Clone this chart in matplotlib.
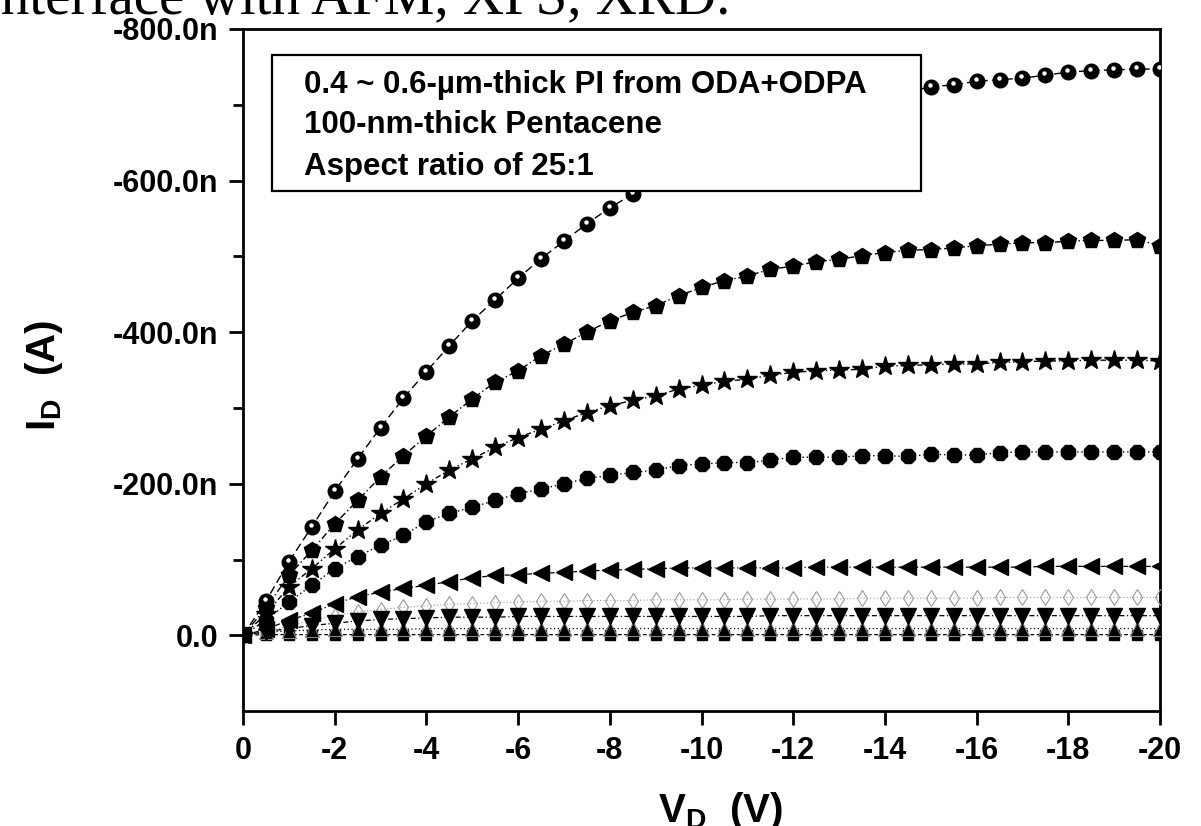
import numpy as np
import matplotlib
matplotlib.use('Agg')
import matplotlib.pyplot as plt
from matplotlib.patches import Rectangle
from matplotlib.ticker import FixedLocator, FuncFormatter
import matplotlib.transforms as mtransforms

plt.rcParams['font.family'] = ['Liberation Sans', 'DejaVu Sans']
plt.rcParams['axes.unicode_minus'] = False
plt.rcParams['mathtext.fontset'] = 'custom'
plt.rcParams['mathtext.rm'] = 'Liberation Sans:bold'
plt.rcParams['mathtext.bf'] = 'Liberation Sans:bold'

# drain voltage, 0 to -20 V in 0.5 V steps
vd = [0.0, -0.5, -1.0, -1.5, -2.0, -2.5, -3.0, -3.5, -4.0, -4.5, -5.0,
      -5.5, -6.0, -6.5, -7.0, -7.5, -8.0, -8.5, -9.0, -9.5, -10.0,
      -10.5, -11.0, -11.5, -12.0, -12.5, -13.0, -13.5, -14.0, -14.5, -15.0,
      -15.5, -16.0, -16.5, -17.0, -17.5, -18.0, -18.5, -19.0, -19.5, -20.0]

# drain current in nA, one list per gate voltage
id_circle = [0, -45, -97, -143, -190, -233, -274, -313, -348, -382, -415,
             -443, -471, -497, -520, -543, -564, -582, -599, -615, -630,
             -643, -655, -666, -676, -685, -694, -702, -709, -716, -724,
             -726, -731, -733, -735, -739, -743, -745, -746, -747, -747]
id_penta = [0, -36, -79, -112, -147, -178, -209, -237, -263, -288, -312,
            -334, -349, -369, -384, -400, -415, -426, -435, -448, -459,
            -468, -474, -483, -487, -493, -496, -501, -505, -508, -509,
            -511, -514, -516, -518, -518, -520, -521, -521, -522, -514]
id_star = [0, -28, -64, -88, -114, -139, -161, -180, -200, -218, -233,
           -248, -261, -272, -283, -294, -303, -310, -316, -325, -330,
           -335, -338, -343, -347, -349, -350, -351, -355, -356, -357,
           -358, -358, -360, -361, -362, -362, -363, -363, -363, -362]
id_gear = [0, -20, -44, -66, -88, -104, -119, -132, -150, -161, -169,
           -178, -187, -193, -200, -207, -211, -215, -218, -224, -226,
           -228, -228, -231, -235, -235, -235, -237, -237, -236, -239,
           -238, -238, -241, -242, -242, -242, -242, -242, -242, -242]
id_left = [0, -8, -20, -29, -42, -51, -57, -62, -66, -71, -76,
           -79, -80, -82, -83, -85, -86, -87, -88, -89, -89,
           -89, -89, -89, -89, -90, -90, -90, -90, -90, -90,
           -90, -90, -90, -90, -91, -91, -91, -91, -91, -91]
id_diamond = [0, -5, -12, -20, -26, -31, -34, -37, -39, -41, -42,
              -43, -44, -45, -45, -46, -46, -46, -47, -47, -47,
              -47, -48, -48, -48, -48, -48, -49, -49, -49, -49,
              -49, -49, -50, -50, -50, -50, -50, -50, -50, -50]
id_down = [0, -5, -9, -13, -16, -19, -21, -22, -23, -24, -24,
           -24, -25, -25, -25, -25, -25, -25, -25, -25, -25,
           -25, -25, -26, -26, -26, -26, -26, -26, -26, -26,
           -26, -26, -26, -26, -26, -26, -26, -26, -26, -26]
id_up = [0, -4, -6, -7, -8, -8, -8, -8, -9, -9, -9,
         -9, -9, -9, -9, -9, -9, -9, -9, -9, -9,
         -9, -9, -9, -9, -9, -9, -9, -9, -9, -9,
         -9, -9, -9, -9, -9, -9, -9, -9, -9, -9]
id_square = [0, -1, -1, -1, -1, -1, -1, -1, -1, -1, -1,
             -1, -1, -1, -1, -1, -1, -1, -1, -1, -1,
             -1, -1, -1, -1, -1, -1, -1, -1, -1, -1,
             -1, -1, -1, -1, -1, -1, -1, -1, -1, -1]

y_major = [-800, -600, -400, -200, 0]
y_minor = [-700, -500, -300, -100]
x_major = [0, -2, -4, -6, -8, -10, -12, -14, -16, -18, -20]

box_lines = ['0.4 ~ 0.6-\u00b5m-thick PI from ODA+ODPA',
             '100-nm-thick Pentacene',
             'Aspect ratio of 25:1']

fig = plt.figure(figsize=(12.01, 8.26), dpi=100)
ax = fig.add_axes([0.2023, 0.139, 0.7636, 0.826])

ax.plot(vd, id_square, color='k', ls=(0, (3, 2)), lw=0.9, marker='s', ms=7, zorder=3)
ax.plot(vd, id_up, color='k', ls=(0, (1, 2)), lw=0.9, marker='^', ms=10,
        mec='#888888', mew=0.8, zorder=3)
ax.plot(vd, id_down, color='k', ls=(0, (4, 2, 1, 2)), lw=0.9, marker='v', ms=11, zorder=4)
ax.plot(vd, id_diamond, color='#9a9a9a', ls=(0, (1, 2)), lw=0.8, marker='d', ms=8,
        mfc='none', mec='#9a9a9a', mew=0.8, zorder=3)
ax.plot(vd, id_left, color='k', ls=(0, (4, 2, 1, 2)), lw=0.9, marker='<', ms=11, zorder=3)
ax.plot(vd, id_gear, color='k', ls=(0, (1, 2)), lw=1.0, marker='8', ms=11, zorder=3)
ax.plot(vd, id_star, color='k', ls=(0, (4, 2, 1, 2, 1, 2)), lw=1.0, marker='*', ms=15, zorder=3)
ax.plot(vd, id_penta, color='k', ls=(0, (5, 2, 1, 2)), lw=1.0, marker='p', ms=12, zorder=3)
ax.plot(vd, id_circle, color='k', ls=(0, (6, 3)), lw=1.0, marker='o', ms=10.5, zorder=3)
# small white highlight on the sphere markers
hl = mtransforms.offset_copy(ax.transData, fig=fig, x=-1, y=2, units='dots')
ax.plot(vd, id_circle, ls='none', marker='o', ms=2.2, mfc='white', mec='white',
        transform=hl, zorder=3.5)

ax.set_xlim(0, -20)
ax.set_ylim(100, -800)

ax.xaxis.set_major_locator(FixedLocator(x_major))
ax.xaxis.set_major_formatter(FuncFormatter(lambda v, p: '%d' % v))
ax.yaxis.set_major_locator(FixedLocator(y_major))
ax.yaxis.set_minor_locator(FixedLocator(y_minor))
ax.yaxis.set_major_formatter(FuncFormatter(lambda v, p: '0.0' if v == 0 else '%.1fn' % v))

ax.tick_params(axis='both', which='major', direction='out', length=10, width=2,
               labelsize=22, pad=8)
ax.tick_params(axis='y', which='minor', direction='out', length=7, width=2)
for lab in ax.get_xticklabels() + ax.get_yticklabels():
    lab.set_fontweight('bold')
for sp in ax.spines.values():
    sp.set_linewidth(2)

# info box
ax.add_patch(Rectangle((-0.63, -586), -14.16, -180, facecolor='white',
                       edgecolor='k', lw=1.6, zorder=6))
for txt, yv in zip(box_lines, [-726, -673, -618]):
    ax.text(-1.33, yv, txt, fontsize=22.5, fontweight='bold', ha='left',
            va='center', zorder=7)

fig.text(44 / 1201, 1 - 375 / 826, r'I$_{\rm D}$  (A)', rotation=90, ha='center',
         va='center', fontsize=29, fontweight='bold')
fig.text(720 / 1201, 1 - 822 / 826, r'V$_{\rm D}$  (V)', ha='center', va='baseline',
         fontsize=29, fontweight='bold')

# cut-off line of text from the page above the figure
fig.text(-15 / 1201, 1 - 13 / 826, 'interface with AFM, XPS, XRD.', ha='left',
         va='baseline', fontsize=41, family='Liberation Serif')

fig.savefig('out.png', dpi=100)
